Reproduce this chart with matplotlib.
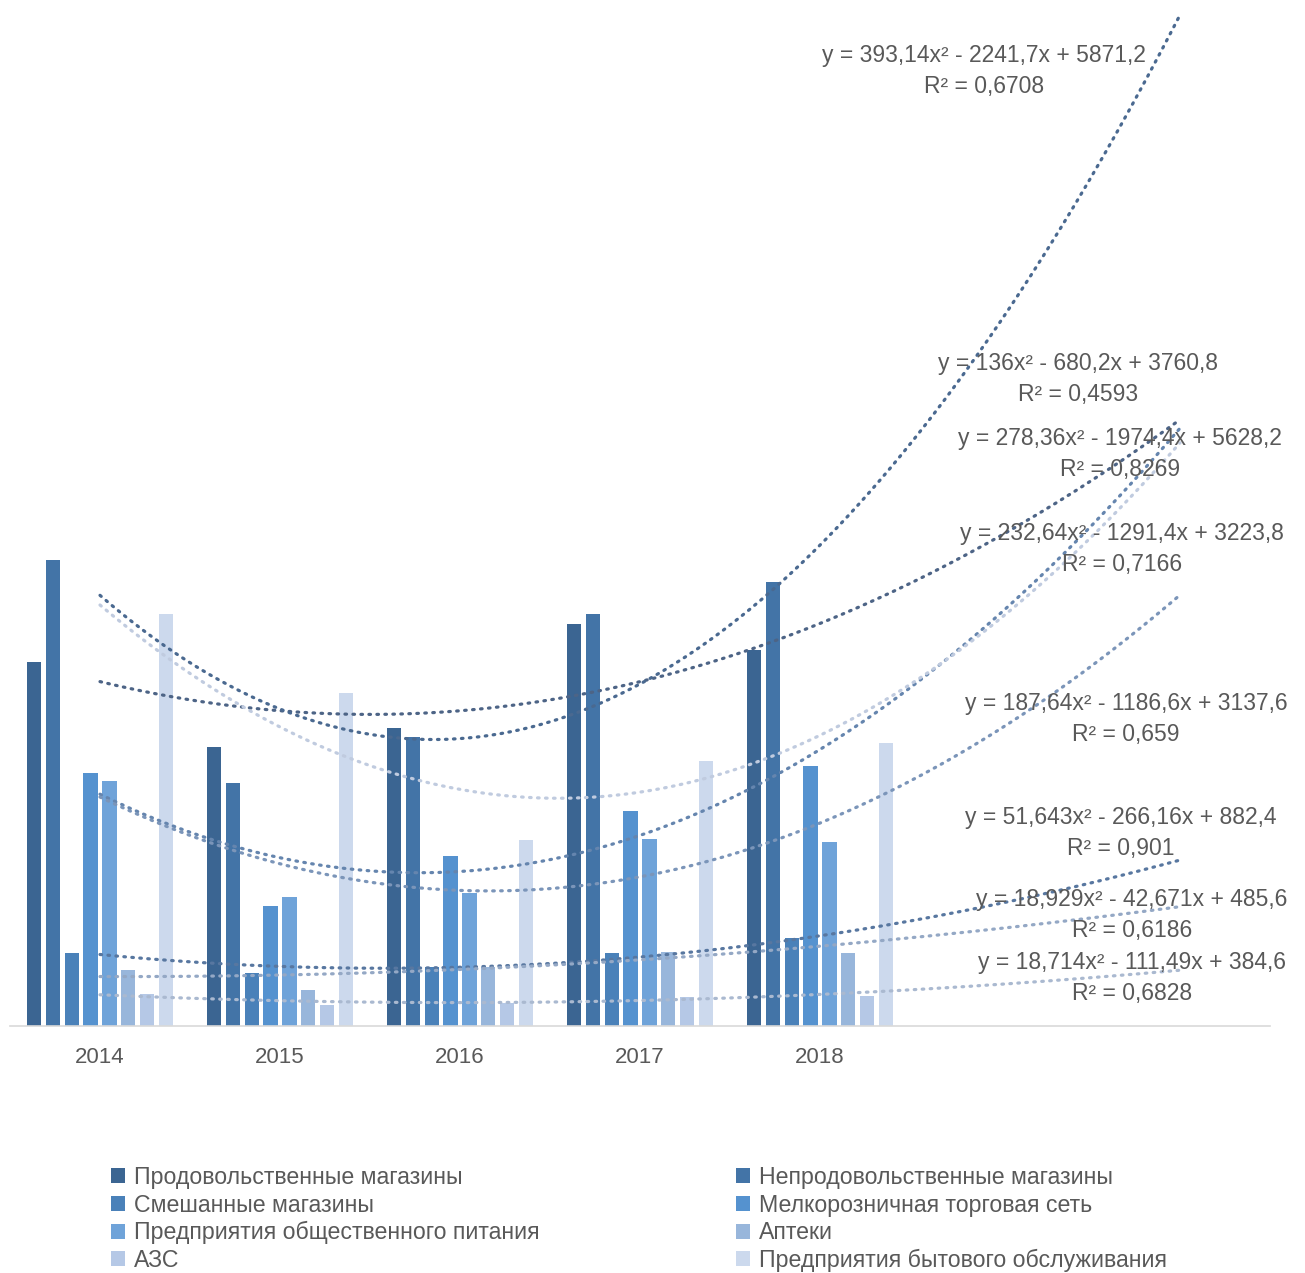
import numpy as np
import matplotlib
matplotlib.use("Agg")
import matplotlib.pyplot as plt
from matplotlib.patches import Patch

plt.rcParams["font.family"] = ["Liberation Sans", "DejaVu Sans"]

years = ["2014", "2015", "2016", "2017", "2018"]
series = [
    "Продовольственные магазины",
    "Непродовольственные магазины",
    "Смешанные магазины",
    "Мелкорозничная торговая сеть",
    "Предприятия общественного питания",
    "Аптеки",
    "АЗС",
    "Предприятия бытового обслуживания",
]
food = [3403, 2609, 2781, 3752, 3512]
nonfood = [4352, 2267, 2702, 3848, 4150]
mixed = [685, 498, 548, 685, 819]
small_retail = [2366, 1124, 1588, 2011, 2431]
catering = [2291, 1202, 1245, 1744, 1716]
pharmacy = [523, 336, 554, 694, 685]
gas = [299, 196, 218, 268, 280]
services = [3848, 3107, 1737, 2475, 2640]

# коэффициенты полиномиальных трендов (a, b, c) как на подписях
trend_coef = [
    (136, -680.2, 3760.8),
    (393.14, -2241.7, 5871.2),
    (51.643, -266.16, 882.4),
    (232.64, -1291.4, 3223.8),
    (187.64, -1186.6, 3137.6),
    (18.929, -42.671, 485.6),
    (18.714, -111.49, 384.6),
    (278.36, -1974.4, 5628.2),
]
trend_text = [
    "y = 136x² - 680,2x + 3760,8\nR² = 0,4593",
    "y = 393,14x² - 2241,7x + 5871,2\nR² = 0,6708",
    "y = 51,643x² - 266,16x + 882,4\nR² = 0,901",
    "y = 232,64x² - 1291,4x + 3223,8\nR² = 0,7166",
    "y = 187,64x² - 1186,6x + 3137,6\nR² = 0,659",
    "y = 18,929x² - 42,671x + 485,6\nR² = 0,6186",
    "y = 18,714x² - 111,49x + 384,6\nR² = 0,6828",
    "y = 278,36x² - 1974,4x + 5628,2\nR² = 0,8269",
]
# центры подписей в пикселях (x, y сверху)
label_pos = [(1078, 379), (984, 71), (1121, 833), (1122, 549),
             (1126, 719), (1132, 915), (1132, 978), (1120, 454)]

colors = ["#3b6592", "#4374a7", "#4a81b9", "#5592cf", "#6fa3d9",
          "#98b6db", "#b5c8e6", "#ccd9ed"]
trend_colors = ["#4d6486", "#4a6990", "#5877a0", "#6585ae", "#7b95b9",
                "#94a8c5", "#aab9d0", "#c0cbdf"]

values = [food, nonfood, mixed, small_retail, catering, pharmacy, gas, services]

W, H = 1305, 1273
fig = plt.figure(figsize=(W / 100, H / 100), dpi=100)
base = 1026
ax = fig.add_axes([10 / W, (H - base) / H, 1260 / W, base / H])

x = np.arange(1, len(years) + 1)
pitch = 0.1048
bw = 0.08
for i, (vals, c) in enumerate(zip(values, colors)):
    ax.bar(x + (i - 3.5) * pitch, vals, bw, color=c, zorder=2)

xt = np.linspace(1, 7, 300)
for (a, b, c0), col in zip(trend_coef, trend_colors):
    ax.plot(xt, np.polyval([a, b, c0], xt), color=col, lw=2.3,
            linestyle=(0, (0.5, 2.0)), dash_capstyle="round", zorder=3)

ax.set_xlim(0.5, 7.5)
ax.set_ylim(0, base * 9.34)
ax.set_xticks(x)
ax.set_xticklabels(years, fontsize=16, color="#595959")
ax.tick_params(axis="x", length=0, pad=15)
ax.set_yticks([])
for s in ["top", "left", "right"]:
    ax.spines[s].set_visible(False)
ax.spines["bottom"].set_color("#d9d9d9")
ax.spines["bottom"].set_linewidth(1.2)

for txt, (px, py) in zip(trend_text, label_pos):
    fig.text(px / W, 1 - py / H, txt, ha="center", va="center",
             multialignment="center", fontsize=16.5, color="#595959",
             linespacing=1.4, zorder=5)

handles = [Patch(facecolor=c, edgecolor="none", label=s) for c, s in zip(colors, series)]
left = [handles[i] for i in (0, 2, 4, 6)]
right = [handles[i] for i in (1, 3, 5, 7)]
for hs, xpos in ((left, 111), (right, 736)):
    fig.legend(handles=hs, loc="upper left", bbox_to_anchor=(xpos / W, 1 - 1166 / H),
               frameon=False, fontsize=16.7, handlelength=0.62, handleheight=0.62,
               handletextpad=0.38, labelspacing=0.2, borderpad=0, borderaxespad=0,
               labelcolor="#595959")

fig.savefig("out.png", dpi=100)
